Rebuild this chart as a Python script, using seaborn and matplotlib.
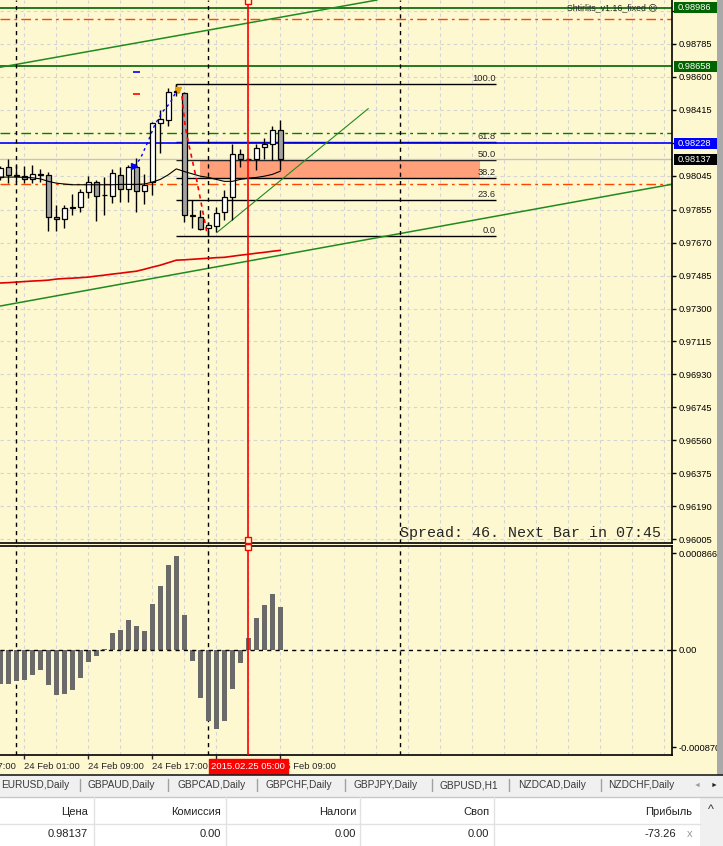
import matplotlib
matplotlib.use("Agg")
import matplotlib.pyplot as plt
from matplotlib.patches import Rectangle
from matplotlib.lines import Line2D
from matplotlib.transforms import blended_transform_factory
import pandas as pd
import seaborn as sns

# H1 bars, bar 0 = 23 Feb 22:00, bar 35 = 25 Feb 09:00
bar_idx = list(range(36))
bar_open = [0.98037, 0.98092, 0.98048, 0.98042, 0.98027, 0.98052, 0.98046, 0.97814, 0.97803, 0.97868,
            0.97870, 0.97953, 0.98009, 0.97935, 0.97931, 0.98046, 0.97972, 0.98092, 0.97959, 0.98009,
            0.98343, 0.98358, 0.98520, 0.98510, 0.97823, 0.97814, 0.97749, 0.97764, 0.97842, 0.97925,
            0.98165, 0.98139, 0.98137, 0.98206, 0.98221, 0.98300]
bar_high = [0.98100, 0.98139, 0.98102, 0.98098, 0.98102, 0.98083, 0.98065, 0.97879, 0.97879, 0.97944,
            0.97972, 0.98042, 0.98018, 0.98037, 0.98083, 0.98092, 0.98102, 0.98143, 0.98055, 0.98347,
            0.98412, 0.98538, 0.98557, 0.98516, 0.97907, 0.97851, 0.97786, 0.97870, 0.97962, 0.98222,
            0.98195, 0.98145, 0.98222, 0.98254, 0.98325, 0.98356]
bar_low = [0.98020, 0.98005, 0.98009, 0.98005, 0.98005, 0.98009, 0.97734, 0.97734, 0.97749, 0.97823,
           0.97842, 0.97920, 0.97790, 0.97827, 0.97894, 0.97898, 0.97898, 0.97842, 0.97885, 0.97935,
           0.98170, 0.98325, 0.98492, 0.97786, 0.97749, 0.97740, 0.97708, 0.97727, 0.97795, 0.97795,
           0.98092, 0.98130, 0.98074, 0.98139, 0.98130, 0.98074]
bar_close = [0.98089, 0.98046, 0.98044, 0.98027, 0.98053, 0.98050, 0.97814, 0.97803, 0.97864, 0.97864,
             0.97953, 0.98009, 0.97931, 0.97938, 0.98059, 0.97972, 0.98092, 0.97959, 0.97994, 0.98343,
             0.98365, 0.98516, 0.98512, 0.97827, 0.97819, 0.97745, 0.97771, 0.97836, 0.97925, 0.98165,
             0.98137, 0.98141, 0.98198, 0.98221, 0.98300, 0.98137]
ma_fast = [0.98037, 0.98037, 0.98037, 0.98035, 0.98033, 0.98027, 0.98013, 0.98003, 0.97998, 0.97994,
           0.97994, 0.97994, 0.97994, 0.97994, 0.97994, 0.97996, 0.97996, 0.97996, 0.97998, 0.98009,
           0.98024, 0.98050, 0.98083, 0.98068, 0.98055, 0.98042, 0.98035, 0.98024, 0.98013, 0.98013,
           0.98024, 0.98031, 0.98035, 0.98042, 0.98052, 0.98070]
ma_slow = [0.97443, 0.97445, 0.97448, 0.97451, 0.97454, 0.97456, 0.97459, 0.97465, 0.97468, 0.97470,
           0.97473, 0.97476, 0.97482, 0.97487, 0.97493, 0.97498, 0.97504, 0.97509, 0.97520, 0.97532,
           0.97543, 0.97557, 0.97571, 0.97573, 0.97576, 0.97579, 0.97582, 0.97585, 0.97587, 0.97593,
           0.97599, 0.97604, 0.97610, 0.97615, 0.97621, 0.97626]
macd_hist = [-0.00030, -0.00030, -0.00028, -0.00027, -0.00022, -0.00018, -0.00031, -0.00040, -0.00039, -0.00036,
             -0.00025, -0.00011, -0.00005, 0.00001, 0.00015, 0.00018, 0.00027, 0.00021, 0.00017, 0.00041,
             0.00057, 0.00076, 0.00084, 0.00031, -0.00010, -0.00043, -0.00063, -0.00071, -0.00063, -0.00035,
             -0.00012, 0.00011, 0.00029, 0.00040, 0.00050, 0.00038]

price_ticks = [0.98970, 0.98785, 0.98600, 0.98415, 0.98230, 0.98045, 0.97855, 0.97670, 0.97485,
               0.97300, 0.97115, 0.96930, 0.96745, 0.96560, 0.96375, 0.96190, 0.96005]
hidden_ticks = [0.98970, 0.98230]  # covered by the price-label boxes in the terminal
macd_ticks = [0.000866, 0.0, -0.000870]
macd_tick_labels = ["0.000866", "0.00", "-0.000870"]
time_ticks = [-5, 3, 11, 19, 27, 35]
time_labels = ["23 Feb 17:00", "24 Feb 01:00", "24 Feb 09:00", "24 Feb 17:00", "25 Feb 01:00", "25 Feb 09:00"]
day_breaks = [2, 26, 50]
cursor_bar = 31
cursor_label = "2015.02.25 05:00"

# chart objects
green_levels = [0.98986, 0.98658]
blue_level = 0.98228
bid_price = 0.98137
orange_levels = [0.98922, 0.97998]
green_dashdot = 0.98284
fib_high, fib_low = 0.98560, 0.97708
fib_ratios = [1.0, 0.618, 0.5, 0.382, 0.236, 0.0]
fib_names = ["100.0", "61.8", "50.0", "38.2", "23.6", "0.0"]
fib_x = [22, 61.9]
zone_x = [25, 60]
chan_up_x, chan_up_y = [0, 47.1], [0.98653, 0.99030]
chan_dn_x, chan_dn_y = [0, 84], [0.97314, 0.97997]
trend_x, trend_y = [27.1, 46], [0.97727, 0.98421]
blue_zz_x = [16.67, 17.5, 18.5, 19.25, 20.2, 21.25, 21.9]
blue_zz_y = [0.98098, 0.98139, 0.98241, 0.98324, 0.98399, 0.98455, 0.98510]
red_zz_x = [22.08, 22.7, 23.1, 23.5, 23.96, 24.6, 25.0, 25.4, 25.8]
red_zz_y = [0.98529, 0.98491, 0.98324, 0.98232, 0.98139, 0.98009, 0.97916, 0.97823, 0.97731]

tabs = ["EURUSD,Daily", "GBPAUD,Daily", "GBPCAD,Daily", "GBPCHF,Daily", "GBPJPY,Daily",
        "GBPUSD,H1", "NZDCAD,Daily", "NZDCHF,Daily"]
table_head = ["Цена", "Комиссия", "Налоги", "Своп", "Прибыль"]
table_row = ["0.98137", "0.00", "0.00", "0.00", "-73.26"]

BG = "#fef8d0"
W, H = 723, 846

sns.set_theme(style="white", rc={"axes.facecolor": BG, "figure.facecolor": BG,
                                 "axes.edgecolor": "black", "axes.linewidth": 1.2})
plt.rcParams["font.family"] = ["Liberation Sans", "DejaVu Sans"]

fig = plt.figure(figsize=(7.23, 8.46), dpi=100)


def box(x0, y0, x1, y1):
    return [x0 / W, 1 - y1 / H, (x1 - x0) / W, (y1 - y0) / H]


ax = fig.add_axes(box(0, 0, 672, 543))
ax2 = fig.add_axes(box(0, 546, 672, 755))

df = pd.DataFrame({"bar": bar_idx, "o": bar_open, "h": bar_high, "l": bar_low, "c": bar_close})
df["bull"] = df["c"] >= df["o"]

grid_kw = dict(color="#d4d4d4", ls=(0, (3, 3)), lw=0.8)
minor_x = [k for k in range(3, 84, 4) if k not in time_ticks]

# ---------- main price panel ----------
fib_prices = [fib_low + r * (fib_high - fib_low) for r in fib_ratios]
ax.add_patch(Rectangle((zone_x[0], fib_prices[3]), zone_x[1] - zone_x[0], fib_prices[2] - fib_prices[3],
                       fc="#ffa07a", ec="none", zorder=1))
ax.hlines(fib_prices, fib_x[0], fib_x[1], color="black", lw=1, zorder=1.5)
ax.vlines(fib_x[0], 0.98510, fib_high, color="black", lw=1, zorder=1.5)
for p, name in zip(fib_prices, fib_names):
    ax.text(fib_x[1], p + 0.00004, name, ha="right", va="bottom", fontsize=6.7, zorder=3)

for lv in green_levels:
    ax.axhline(lv, color="#006400", lw=1.2, zorder=1.6)
ax.axhline(blue_level, color="#0000ff", lw=1.2, zorder=1.6)
ax.axhline(bid_price, color="#c4c4c4", lw=1, zorder=1.6)
for lv in orange_levels:
    ax.axhline(lv, color="#ff4500", lw=1, ls=(0, (7, 3, 2, 3)), zorder=1.6)
ax.axhline(green_dashdot, color="#008000", lw=1, ls=(0, (7, 3, 2, 3)), zorder=1.6)

ax.plot(chan_up_x, chan_up_y, color="#1f8b1f", lw=1.1, zorder=1.7)
ax.plot(chan_dn_x, chan_dn_y, color="#1f8b1f", lw=1.1, zorder=1.7)
ax.plot(trend_x, trend_y, color="#1f8b1f", lw=0.8, zorder=1.7)

for k in day_breaks:
    ax.axvline(k, color="black", lw=1, ls=(0, (3, 3)), zorder=1.8)
    ax2.axvline(k, color="black", lw=1, ls=(0, (3, 3)), zorder=1.8)

sns.lineplot(x=bar_idx, y=ma_slow, color="#e00000", lw=1.2, estimator=None, sort=False, ax=ax, zorder=2)
sns.lineplot(x=bar_idx, y=ma_fast, color="black", lw=0.8, estimator=None, sort=False, ax=ax, zorder=3.5)

# candles
ax.vlines(df["bar"], df["l"], df["h"], color="black", lw=1, zorder=2.5)
body_lo = df[["o", "c"]].min(axis=1)
body_h = (df["c"] - df["o"]).abs()
ax.bar(df["bar"], body_h, bottom=body_lo, width=0.7,
       color=["white" if b else "#a2a2a2" for b in df["bull"]],
       edgecolor="black", lw=0.9, zorder=3)

ax.plot(blue_zz_x, blue_zz_y, color="#0000ff", lw=1, ls=(0, (2, 2.5)), zorder=3.6)
ax.plot(blue_zz_x[0], blue_zz_y[0], marker=">", color="#0000ff", ms=5, zorder=3.7)
ax.plot(red_zz_x, red_zz_y, color="#ff0000", lw=1.2, ls=(0, (2.5, 2.5)), zorder=3.6)
ax.plot(red_zz_x[0] + 0.1, red_zz_y[0] - 0.00006, marker="v", color="#e8a000", ms=4, zorder=3.7)
ax.hlines([0.98627], 16.6, 17.5, color="#0000ff", lw=1.2)
ax.hlines([0.98501], 16.6, 17.5, color="#ff0000", lw=1.2)

ax.axvline(cursor_bar, color="red", lw=1.2, zorder=4)
ax.plot(cursor_bar, 0.99025, marker="s", mfc=BG, mec="red", ms=4, zorder=4.5, clip_on=False)
ax.plot(cursor_bar, 0.96000, marker="s", mfc=BG, mec="red", ms=4, zorder=4.5, clip_on=False)

ax.set_xlim(-0.04, 83.96)
ax.set_ylim(0.95985, 0.99030)
ax.set_yticks(price_ticks)
ax.set_yticklabels(["" if v in hidden_ticks else f"{v:.5f}" for v in price_ticks])
ax.yaxis.tick_right()
ax.tick_params(axis="y", right=True, left=False, length=3, width=1, pad=1.5, labelsize=6.7,
               colors="black", direction="out")
ax.set_xticks(time_ticks[1:])
ax.set_xticks(minor_x, minor=True)
ax.tick_params(axis="x", which="both", length=0, labelbottom=False)
ax.grid(True, which="both", **grid_kw)
ax.spines["left"].set_visible(False)
ax.spines["top"].set_visible(False)
ax.set_xlabel("")
ax.set_ylabel("")

ax.text(400 / 672, 10 / 543, "Spread: 46. Next Bar in 07:45", transform=ax.transAxes,
        family="Liberation Mono", fontsize=10.8, ha="left", va="center", zorder=5)
ax.text(567 / 672, 1 - 8 / 543, "Shtirlits_v1.16_fixed \u2639", transform=ax.transAxes,
        fontsize=6.3, ha="left", va="center", zorder=5)

# price label boxes on the right scale
lab_tr = blended_transform_factory(ax.transAxes, ax.transData)
half_h = 5.5 * (0.99030 - 0.95985) / 543
for price, fc in [(green_levels[0], "#006400"), (green_levels[1], "#006400"),
                  (blue_level, "#0000ff"), (bid_price, "black")]:
    ax.add_patch(Rectangle((1 + 2 / 672, price - half_h), 44 / 672, 2 * half_h, transform=lab_tr,
                           fc=fc, ec="none", clip_on=False, zorder=6))
    ax.text(1 + 6 / 672, price, f"{price:.5f}", transform=lab_tr, ha="left", va="center",
            fontsize=6.7, color="white", clip_on=False, zorder=7)

# ---------- MACD panel ----------
sns.barplot(x=bar_idx, y=macd_hist, native_scale=True, width=0.68, color="#6a6a6a",
            saturation=1, errorbar=None, linewidth=0, ax=ax2, zorder=2)
ax2.axhline(0, color="black", lw=1, ls=(0, (3, 3)), zorder=2.5)
ax2.axvline(cursor_bar, color="red", lw=1.2, zorder=4)
ax2.plot(cursor_bar, 0.00092, marker="s", mfc=BG, mec="red", ms=4, zorder=4.5, clip_on=False)

ax2.set_xlim(-0.04, 83.96)
ax2.set_ylim(-0.000938, 0.000929)
ax2.set_yticks(macd_ticks)
ax2.set_yticklabels(macd_tick_labels)
ax2.yaxis.tick_right()
ax2.tick_params(axis="y", right=True, left=False, length=3, width=1, pad=1.5, labelsize=6.7,
                colors="black", direction="out")
ax2.set_xticks(time_ticks[1:])
ax2.set_xticklabels(time_labels[1:])
ax2.set_xticks(minor_x, minor=True)
for lbl in ax2.get_xticklabels():
    lbl.set_ha("left")
ax2.tick_params(axis="x", which="major", bottom=True, length=3, width=1, pad=2, labelsize=6.8,
                direction="out")
ax2.tick_params(axis="x", which="minor", length=0)
ax2.grid(True, axis="x", which="both", **grid_kw)
ax2.grid(False, axis="y")
ax2.spines["left"].set_visible(False)
ax2.set_xlabel("")
ax2.set_ylabel("")
ax2.annotate(time_labels[0], xy=(time_ticks[0], 0), xycoords=("data", "axes fraction"),
             xytext=(0, -5), textcoords="offset points", ha="left", va="top",
             fontsize=6.8, annotation_clip=False)
ax2.annotate(cursor_label, xy=(cursor_bar, 0), xycoords=("data", "axes fraction"),
             xytext=(0, -5), textcoords="offset points", ha="center", va="top",
             fontsize=6.8, color="white", annotation_clip=False, zorder=6,
             bbox=dict(boxstyle="square,pad=0.3", fc="#ff0000", ec="#ff0000"))


# ---------- terminal chrome below the chart ----------
def frect(x0, y0, x1, y1, fc, z=5):
    fig.add_artist(Rectangle((x0 / W, 1 - y1 / H), (x1 - x0) / W, (y1 - y0) / H,
                             transform=fig.transFigure, fc=fc, ec="none", zorder=z))


def fline(x0, y0, x1, y1, color, lw=1, z=6):
    fig.add_artist(Line2D([x0 / W, x1 / W], [1 - y0 / H, 1 - y1 / H],
                          transform=fig.transFigure, color=color, lw=lw, zorder=z))


frect(717, 0, 723, 775, "#a9a9a9")
frect(0, 775, 723, 797, "#f0f0f0")
fline(0, 775, 723, 775, "#202020", lw=1.2)
tab_x = [1, 88, 177, 266, 354, 440, 518, 608]
for name, x in zip(tabs, tab_x):
    fig.text(x / W, 1 - 785 / H, name, fontsize=7.3, color="#3a3a3a", ha="left", va="center", zorder=7)
for x in [80, 168, 257, 345, 432, 509, 601]:
    fline(x, 779, x, 791, "#a0a0a0")
fig.text(697 / W, 1 - 785 / H, "\u25c4", fontsize=5, color="#999999", ha="center", va="center", zorder=7)
fig.text(714 / W, 1 - 785 / H, "\u25ba", fontsize=5, color="#222222", ha="center", va="center", zorder=7)

frect(0, 797, 723, 846, "white")
frect(700, 797, 723, 846, "#f0f0f0", z=5.5)
fline(0, 797, 723, 797, "#c8c8c8")
fline(0, 824, 700, 824, "#e2e2e2")
for x in [94, 226, 360, 494]:
    fline(x, 797, x, 846, "#e2e2e2")
head_right = [88, 221, 356, 489, 692]
row_right = [88, 221, 356, 489, 676]
for txt, x in zip(table_head, head_right):
    fig.text(x / W, 1 - 812 / H, txt, fontsize=8, color="#222222", ha="right", va="center", zorder=7)
for txt, x in zip(table_row, row_right):
    fig.text(x / W, 1 - 834 / H, txt, fontsize=8, color="#222222", ha="right", va="center", zorder=7)
fig.text(690 / W, 1 - 834 / H, "x", fontsize=8, color="#999999", ha="center", va="center", zorder=7)
fig.text(711 / W, 1 - 810 / H, "^", fontsize=9, color="#333333", ha="center", va="center", zorder=7)

fig.savefig("out.png", dpi=100, facecolor=BG)
